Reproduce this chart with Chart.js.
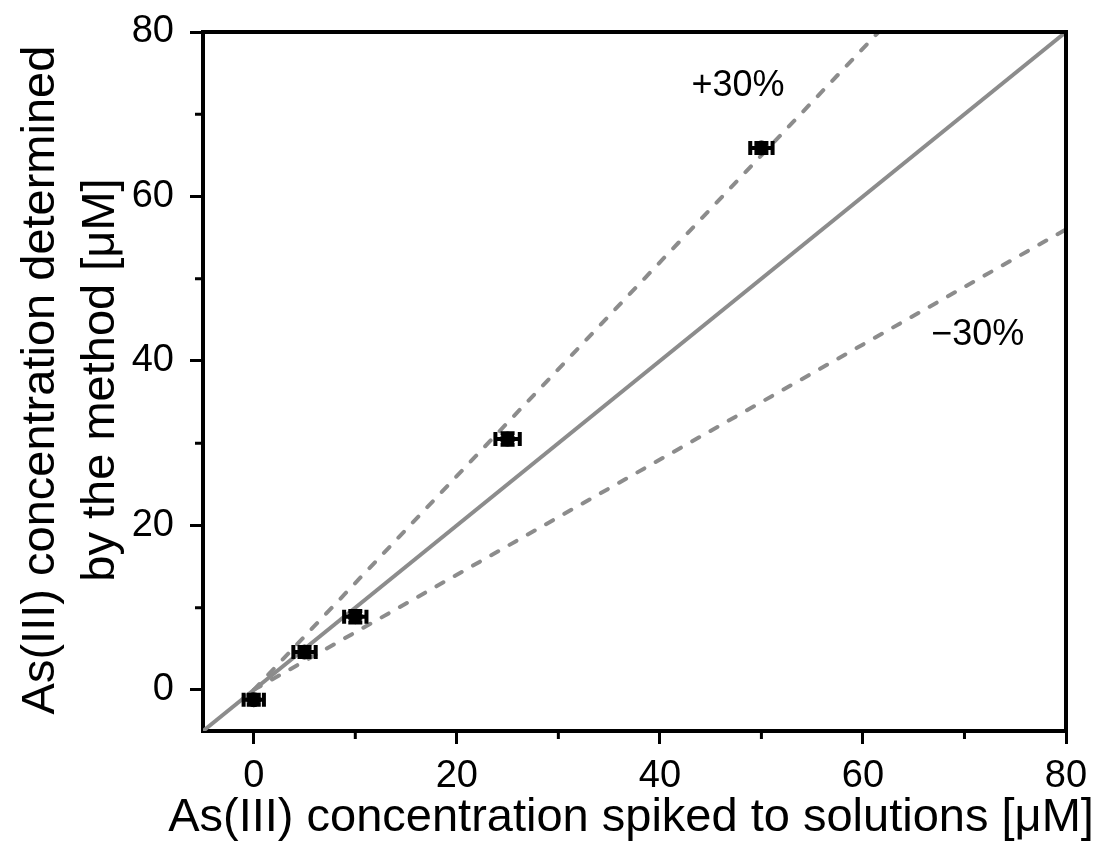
<!DOCTYPE html>
<html lang="en">
<head>
  <meta charset="UTF-8" />
  <title>As(III) recovery</title>
  <script src="https://cdn.jsdelivr.net/npm/chart.js"></script>
  <style>
    html, body { margin: 0; padding: 0; background: #fff; overflow: hidden; }
    #wrap { width: 1101px; height: 844px; }
    canvas { display: block; }
  </style>
</head>
<body>
  <div id="wrap"><canvas id="chart" width="1101" height="844"></canvas></div>
  <script>
    // measured points
    const spiked = [0, 5, 10, 25, 50];
    const determined = [-1.2, 4.6, 8.9, 30.5, 65.9];
    const xErr = [1.0, 1.1, 1.1, 1.2, 1.1];
    const yErr = [0.6, 0.6, 0.7, 0.7, 0.6];

    // reference lines (x, y endpoints)
    const identityX = [-5, 80];
    const identityY = [-5, 80];
    const plusX = [0, 61.54];
    const plusY = [0, 80];
    const minusX = [0, 80];
    const minusY = [0, 56];

    // axis ticks
    const majorTicks = [0, 20, 40, 60, 80];
    const minorTicks = [10, 30, 50, 70];

    // titles and line labels
    const xTitle = 'As(III) concentration spiked to solutions [\u03bcM]';
    const yTitle = ['As(III) concentration determined', 'by the method [\u03bcM]'];
    const labelTexts = ['+30%', '\u221230%'];
    const labelX = [47.7, 71.3];
    const labelY = [73.4, 43.2];

    const FONT = "'Liberation Sans', Arial, sans-serif";
    const GREY = '#8c8c8c';

    const toPts = (xs, ys) => xs.map((x, i) => ({ x: x, y: ys[i] }));

    const extras = {
      id: 'extras',
      afterDatasetsDraw(chart) {
        const ctx = chart.ctx;
        const xs = chart.scales.x, ys = chart.scales.y;
        ctx.save();
        // error bars
        ctx.strokeStyle = '#000';
        ctx.lineWidth = 4;
        spiked.forEach((x, i) => {
          const px = xs.getPixelForValue(x), py = ys.getPixelForValue(determined[i]);
          const x1 = xs.getPixelForValue(x - xErr[i]), x2 = xs.getPixelForValue(x + xErr[i]);
          const y1 = ys.getPixelForValue(determined[i] - yErr[i]), y2 = ys.getPixelForValue(determined[i] + yErr[i]);
          ctx.beginPath();
          ctx.moveTo(x1, py); ctx.lineTo(x2, py);
          ctx.moveTo(x1, py - 7); ctx.lineTo(x1, py + 7);
          ctx.moveTo(x2, py - 7); ctx.lineTo(x2, py + 7);
          ctx.moveTo(px, y1); ctx.lineTo(px, y2);
          ctx.moveTo(px - 7, y1); ctx.lineTo(px + 7, y1);
          ctx.moveTo(px - 7, y2); ctx.lineTo(px + 7, y2);
          ctx.stroke();
        });
        // line labels
        ctx.fillStyle = '#000';
        ctx.font = '36px ' + FONT;
        ctx.textAlign = 'center';
        ctx.textBaseline = 'middle';
        labelTexts.forEach((t, i) => {
          ctx.fillText(t, xs.getPixelForValue(labelX[i]), ys.getPixelForValue(labelY[i]));
        });
        ctx.restore();
      },
      afterDraw(chart) {
        const ctx = chart.ctx;
        const xs = chart.scales.x, ys = chart.scales.y;
        const a = chart.chartArea;
        ctx.save();
        ctx.strokeStyle = '#000';
        ctx.lineWidth = 4;
        // top and right frame
        ctx.beginPath();
        ctx.moveTo(a.left - 2, a.top);
        ctx.lineTo(a.right, a.top);
        ctx.lineTo(a.right, a.bottom + 2);
        ctx.stroke();
        // minor ticks
        ctx.lineWidth = 3;
        ctx.beginPath();
        minorTicks.forEach(v => {
          const px = xs.getPixelForValue(v);
          ctx.moveTo(px, a.bottom); ctx.lineTo(px, a.bottom + 8);
          const py = ys.getPixelForValue(v);
          ctx.moveTo(a.left, py); ctx.lineTo(a.left - 8, py);
        });
        ctx.stroke();
        // axis titles (drawn here so they are not squeezed to the axis length)
        ctx.fillStyle = '#000';
        ctx.font = '47px ' + FONT;
        ctx.textAlign = 'center';
        ctx.textBaseline = 'middle';
        ctx.fillText(xTitle, 631, 818);
        ctx.translate(0, 380);
        ctx.rotate(-Math.PI / 2);
        ctx.fillText(yTitle[0], 0, 41);
        ctx.fillText(yTitle[1], 0, 101);
        ctx.restore();
      }
    };

    const axisCommon = {
      type: 'linear',
      min: -5,
      max: 80,
      afterBuildTicks: s => { s.ticks = majorTicks.map(v => ({ value: v })); },
      border: { display: true, color: '#000', width: 4 },
      grid: { drawOnChartArea: false, drawTicks: true, tickLength: 13, tickWidth: 3, tickColor: '#000', color: '#000' },
      ticks: { color: '#000', font: { size: 38, family: FONT }, padding: 8, maxRotation: 0 }
    };

    const fixPad = s => { s.paddingTop = 0; s.paddingBottom = 0; s.paddingLeft = 0; s.paddingRight = 0; };

    const dashed = { showLine: true, borderColor: GREY, borderWidth: 4, borderDash: [8, 13], borderCapStyle: 'round', pointRadius: 0, order: 3 };

    new Chart(document.getElementById('chart'), {
      type: 'scatter',
      data: {
        datasets: [
          { data: toPts(identityX, identityY), showLine: true, borderColor: GREY, borderWidth: 4, pointRadius: 0, order: 3 },
          Object.assign({ data: toPts(plusX, plusY) }, dashed),
          Object.assign({ data: toPts(minusX, minusY) }, dashed),
          { data: toPts(spiked, determined), pointRadius: 7, pointBackgroundColor: '#000', pointBorderColor: '#000', order: 1 }
        ]
      },
      options: {
        responsive: false,
        animation: false,
        layout: { padding: { left: 0, right: 35, top: 32, bottom: 0 } },
        plugins: { legend: { display: false }, tooltip: { enabled: false } },
        scales: {
          x: Object.assign({}, axisCommon, {
            position: 'bottom',
            afterFit: s => { s.height = 113; fixPad(s); },
            ticks: Object.assign({}, axisCommon.ticks, { padding: 10 })
          }),
          y: Object.assign({}, axisCommon, {
            position: 'left',
            afterFit: s => { s.width = 203; fixPad(s); },
            ticks: Object.assign({}, axisCommon.ticks, { padding: 16 })
          })
        }
      },
      plugins: [extras]
    });
  </script>
</body>
</html>
